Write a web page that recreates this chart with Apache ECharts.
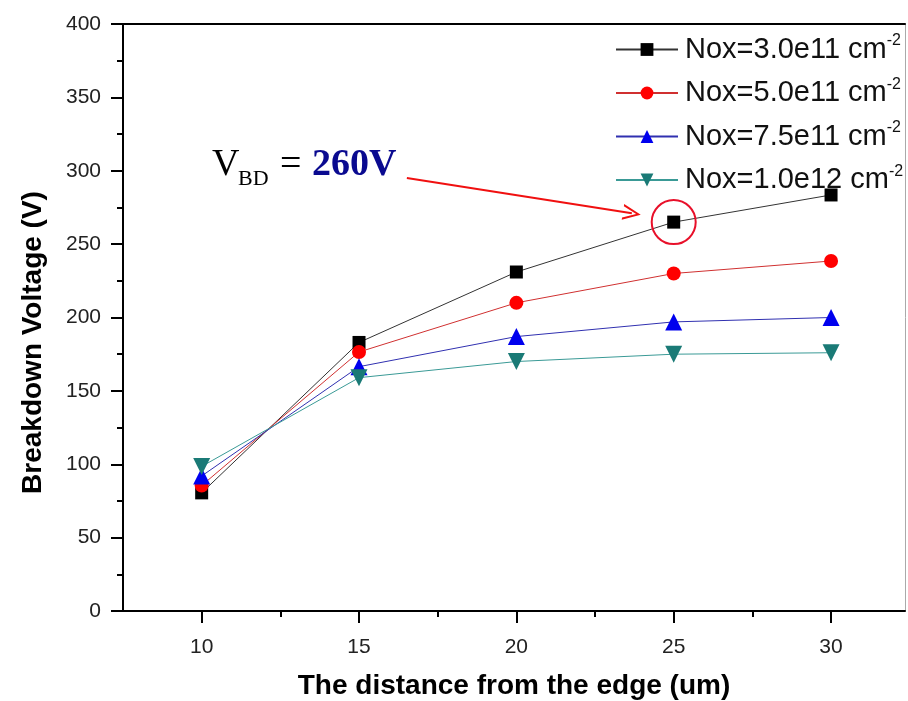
<!DOCTYPE html>
<html>
<head>
<meta charset="utf-8">
<script src="https://cdn.jsdelivr.net/npm/echarts@6/dist/echarts.min.js"></script>
<style>html,body{margin:0;padding:0;background:#fff}#c{width:908px;height:701px}</style>
</head>
<body>
<div id="c"></div>
<script>
var xValues = [10, 15, 20, 25, 30];
var seriesNames = ['Nox=3.0e11 cm', 'Nox=5.0e11 cm', 'Nox=7.5e11 cm', 'Nox=1.0e12 cm'];
var nox30e11 = [80.5, 183, 231, 265, 283.5];
var nox50e11 = [85.5, 176.5, 210, 230, 238.5];
var nox75e11 = [92, 166.5, 187, 197, 200];
var nox10e12 = [98.5, 159, 170, 175, 176];
var xLabelTicks = [10, 15, 20, 25, 30];
var xMinorTicks = [12.5, 17.5, 22.5, 27.5];
var highlightPoint = [25, 265];
var arrowFrom = [16.52, 295];
var arrowTo = [23.67, 271];

function pairs(vals){ return xValues.map(function(x,i){ return [x, vals[i]]; }); }

var chart = echarts.init(document.getElementById('c'));
var font = 'Liberation Sans, Arial, sans-serif';
var chevron = 'path://M5,0 L10,14 L8.6,14 L5,3.6 L1.4,14 L0,14 Z';

var option = {
  animation: false,
  grid: { left: 123, top: 24, right: 3, bottom: 90, outerBoundsMode: 'none', containLabel: false },
  legend: {
    orient: 'vertical', left: 610, top: 28, itemWidth: 62, itemHeight: 16, itemGap: 12.5,
    data: seriesNames,
    formatter: function(n){ return '{a|' + n + '}{s|-2}'; },
    textStyle: {
      rich: {
        a: { fontFamily: font, fontSize: 29, color: '#111', lineHeight: 30, padding: [0, 0, 0, 2] },
        s: { fontFamily: font, fontSize: 16, color: '#111', padding: [0, 0, 17, 0] }
      }
    }
  },
  xAxis: [{
    type: 'value', min: 7.5, max: 32.35, position: 'bottom',
    name: 'The distance from the edge (um)', nameLocation: 'middle', nameGap: 61,
    nameTextStyle: { fontFamily: font, fontSize: 28, fontWeight: 'bold', color: '#000' },
    axisLine: { lineStyle: { color: '#000', width: 2 } },
    axisTick: { show: true, inside: false, length: 12, customValues: xLabelTicks, lineStyle: { color: '#000', width: 2 } },
    axisLabel: { customValues: xLabelTicks, fontFamily: font, fontSize: 21, color: '#222', margin: 26 },
    splitLine: { show: false }
  }, {
    type: 'value', min: 7.5, max: 32.35, position: 'bottom',
    axisLine: { show: false },
    axisTick: { show: true, inside: false, length: 6, customValues: xMinorTicks, lineStyle: { color: '#000', width: 2 } },
    axisLabel: { show: false },
    splitLine: { show: false }
  }, {
    type: 'value', min: 7.5, max: 32.35, position: 'top',
    axisLine: { show: true, lineStyle: { color: '#000', width: 2 } },
    axisTick: { show: false }, axisLabel: { show: false }, splitLine: { show: false }
  }],
  yAxis: [{
    type: 'value', min: 0, max: 400, interval: 50,
    name: 'Breakdown Voltage (V)', nameLocation: 'middle', nameGap: 76,
    nameTextStyle: { fontFamily: font, fontSize: 28, fontWeight: 'bold', color: '#000', padding: [0, 50, 0, 0] },
    axisLine: { show: true, lineStyle: { color: '#000', width: 2 } },
    axisTick: { show: true, inside: false, length: 12, lineStyle: { color: '#000', width: 2 } },
    minorTick: { show: true, splitNumber: 2, length: 6, lineStyle: { color: '#000', width: 2 } },
    axisLabel: { fontFamily: font, fontSize: 21, color: '#222', margin: 22 },
    splitLine: { show: false }
  }, {
    type: 'value', min: 0, max: 400, position: 'right',
    axisLine: { show: true, lineStyle: { color: '#aaa', width: 1 } },
    axisTick: { show: false }, axisLabel: { show: false }, splitLine: { show: false }
  }],
  series: [
    { name: seriesNames[0], type: 'line', data: pairs(nox30e11), symbol: 'rect', symbolSize: 13,
      itemStyle: { color: '#000' }, lineStyle: { color: '#333', width: 1 },
      markPoint: { silent: true, data: [{ coord: highlightPoint, symbol: 'circle', symbolSize: 44,
        itemStyle: { color: 'rgba(0,0,0,0)', borderColor: '#e8102a', borderWidth: 2 }, label: { show: false } }] },
      markLine: { silent: true, symbol: ['none', chevron], symbolSize: [16, 18],
        lineStyle: { color: '#f01010', width: 2, type: 'solid' }, label: { show: false },
        data: [[{ coord: arrowFrom }, { coord: arrowTo }]] }
    },
    { name: seriesNames[1], type: 'line', data: pairs(nox50e11), symbol: 'circle', symbolSize: 14,
      itemStyle: { color: '#ff0000' }, lineStyle: { color: '#d03030', width: 1 } },
    { name: seriesNames[2], type: 'line', data: pairs(nox75e11), symbol: 'triangle', symbolSize: 17,
      itemStyle: { color: '#0000ee' }, lineStyle: { color: '#3030b0', width: 1 } },
    { name: seriesNames[3], type: 'line', data: pairs(nox10e12), symbol: 'triangle', symbolRotate: 180, symbolSize: 17,
      itemStyle: { color: '#1a7a76' }, lineStyle: { color: '#3a9a96', width: 1 } }
  ],
  graphic: [
    { type: 'text', left: 212, top: 146, style: { text: 'V', font: '38px "Liberation Serif", serif', fill: '#000' } },
    { type: 'text', left: 238, top: 168, style: { text: 'BD', font: '22px "Liberation Serif", serif', fill: '#000' } },
    { type: 'text', left: 280, top: 146, style: { text: '=', font: '38px "Liberation Serif", serif', fill: '#000' } },
    { type: 'text', left: 312, top: 146, style: { text: '260V', font: 'bold 38px "Liberation Serif", serif', fill: '#0a0a90' } }
  ]
};
chart.setOption(option);
</script>
</body>
</html>
